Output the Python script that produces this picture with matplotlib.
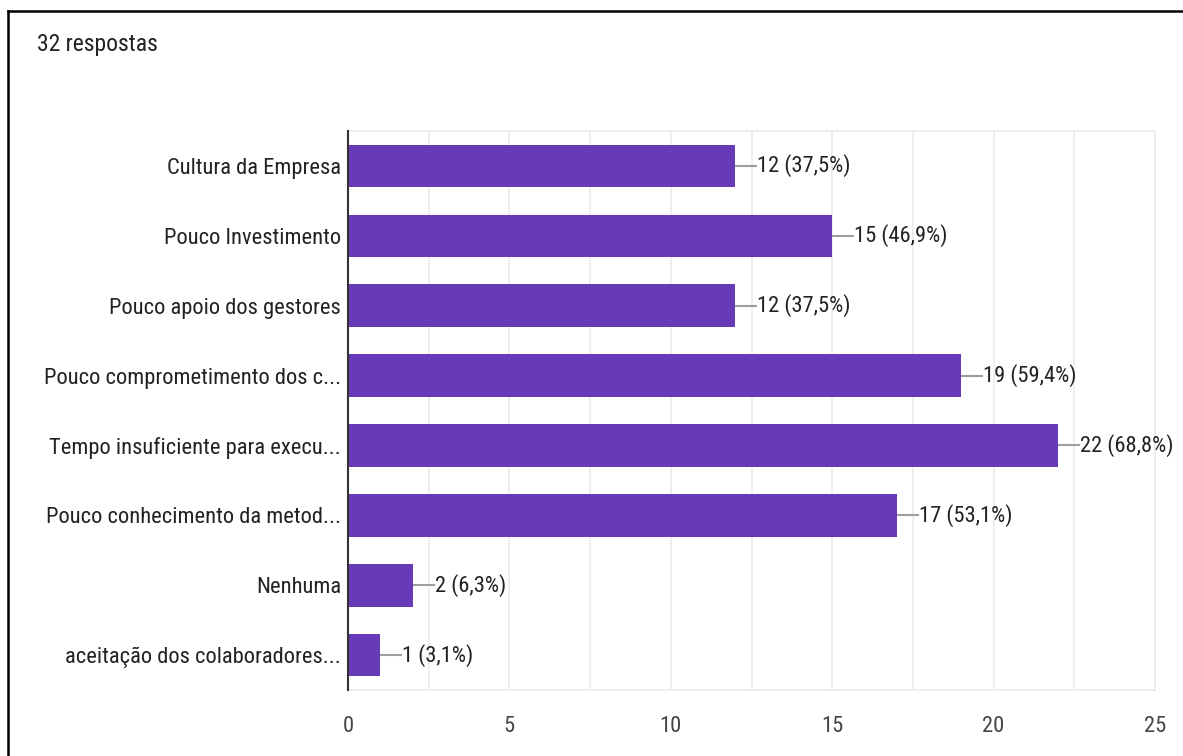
import matplotlib
matplotlib.use("Agg")
import matplotlib.pyplot as plt
from matplotlib.lines import Line2D
from matplotlib.ticker import MultipleLocator

categories = [
    "Cultura da Empresa",
    "Pouco Investimento",
    "Pouco apoio dos gestores",
    "Pouco comprometimento dos c...",
    "Tempo insuficiente para execu...",
    "Pouco conhecimento da metod...",
    "Nenhuma",
    "aceitação dos colaboradores...",
]
counts = [12, 15, 12, 19, 22, 17, 2, 1]
percents = [37.5, 46.9, 37.5, 59.4, 68.8, 53.1, 6.3, 3.1]
total_answers = 32

plt.rcParams["font.family"] = ["Roboto Condensed", "Liberation Sans Narrow",
                               "Roboto", "DejaVu Sans"]
plt.rcParams["font.stretch"] = "condensed"
FS = 16.2

fig = plt.figure(figsize=(11.83, 7.56), dpi=100)
ax = fig.add_axes([0.2942, 0.0873, 0.6821, 0.7394])

ypos = list(range(len(categories)))
ax.barh(ypos, counts, height=0.61, color="#673ab7", zorder=3)

# leader line + value label after each bar
for y, c, p in zip(ypos, counts, percents):
    ax.plot([c, c + 0.68], [y, y], color="#9e9e9e", lw=1.5, zorder=3,
            solid_capstyle="butt")
    ax.text(c + 0.68, y, "%d (%s%%)" % (c, ("%.1f" % p).replace(".", ",")),
            va="center", ha="left", fontsize=FS, color="#222222")

ax.set_xlim(0, 25)
ax.set_ylim(len(categories) - 0.5, -0.5)
ax.set_yticks(ypos)
ax.set_yticklabels(categories)
ax.xaxis.set_major_locator(MultipleLocator(5))
ax.xaxis.set_minor_locator(MultipleLocator(2.5))
ax.grid(True, which="both", axis="x", color="#ebebeb", lw=1.2, zorder=0)

ax.tick_params(axis="both", which="both", length=0, labelsize=FS,
               colors="#333333")
ax.tick_params(axis="y", pad=5, labelcolor="#222222")
ax.tick_params(axis="x", pad=19, labelcolor="#444444")

for side in ("top", "right", "bottom"):
    ax.spines[side].set_color("#ebebeb")
    ax.spines[side].set_linewidth(1.2)
ax.spines["left"].set_color("#333333")
ax.spines["left"].set_linewidth(1.5)
ax.spines["left"].set_zorder(4)

fig.text(37 / 1183, 1 - 45 / 756, "%d respostas" % total_answers,
         fontsize=17, color="#222222", va="center", ha="left")

# frame around the card (left and top edges)
fig.add_artist(Line2D([8 / 1183, 8 / 1183], [0, 1 - 11 / 756],
                      transform=fig.transFigure, color="black", lw=1.8))
fig.add_artist(Line2D([8 / 1183, 1], [1 - 11 / 756, 1 - 11 / 756],
                      transform=fig.transFigure, color="black", lw=1.8))

fig.savefig("out.png", dpi=100, facecolor="white")
